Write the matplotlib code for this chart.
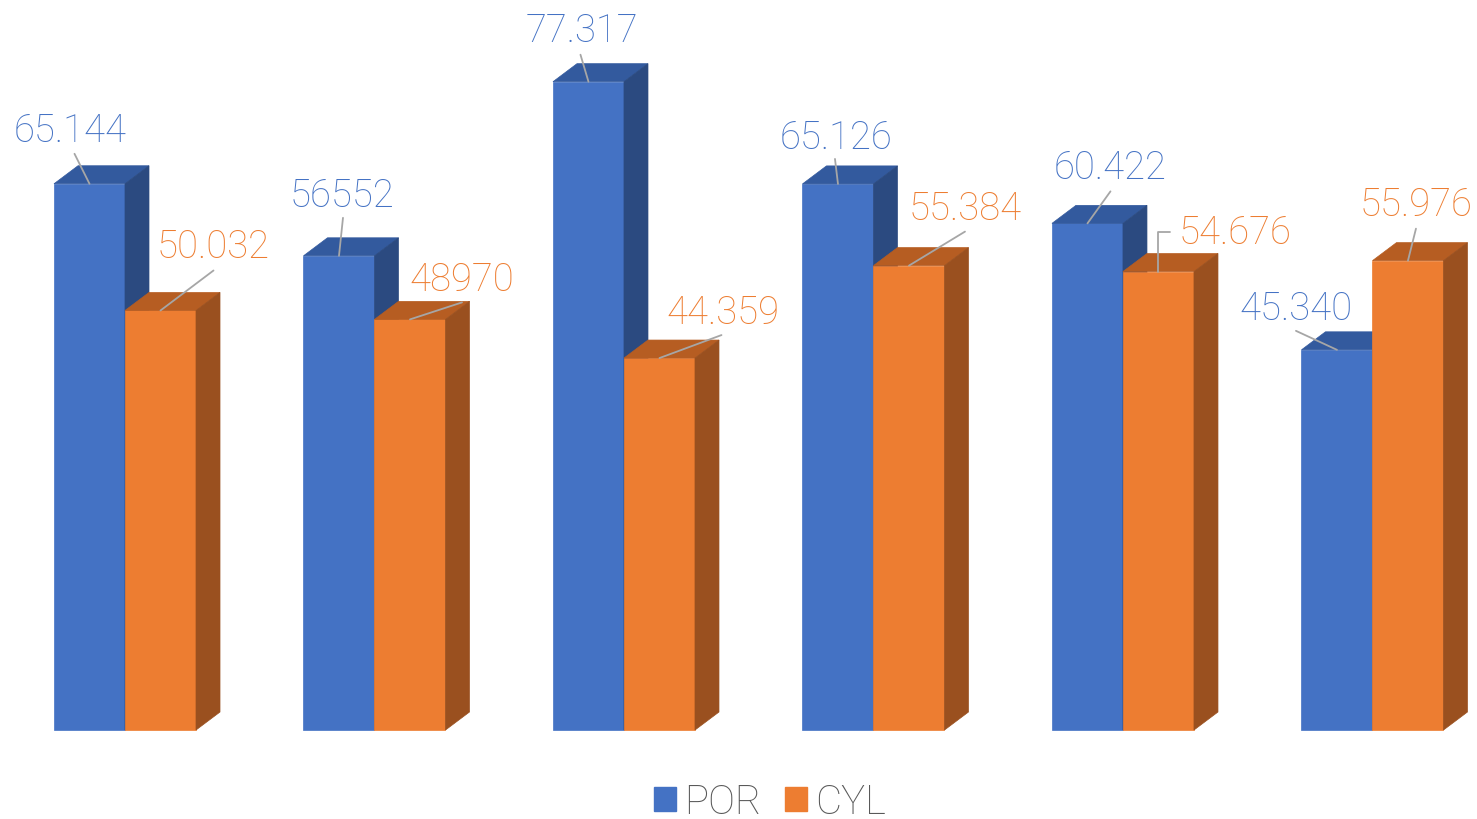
import numpy as np
import matplotlib
matplotlib.use("Agg")
import matplotlib.pyplot as plt
from matplotlib.patches import Polygon, Patch

plt.rcParams['font.family'] = ['Roboto', 'DejaVu Sans']

# data
groups = np.arange(6)
por_vals = [65.144, 56.552, 77.317, 65.126, 60.422, 45.340]
cyl_vals = [50.032, 48.970, 44.359, 55.384, 54.676, 55.976]
por_labels = ["65.144", "56552", "77.317", "65.126", "60.422", "45.340"]
cyl_labels = ["50.032", "48970", "44.359", "55.384", "54.676", "55.976"]

# (line end dx, dy, text dx, dy) in pixels relative to top of front face
por_off = [(-15, 30, -19, 54), (4, 38, 3, 61), (-8, 27, -7, 51),
           (-3, 25, -2, 47), (23, 32, 23, 56), (-41, 19, -41, 42)]
cyl_off = [(53, 40, 53, 64), (52, 17, 52, 40), (62, 23, 63, 46),
           (56, 34, 56, 57), (12, 40, 77, 39), (8, 32, 8, 56)]

blue = ("#4472C4", "#335A9E", "#2B4A80")
orange = ("#ED7D31", "#B65D22", "#9A501F")

w = 0.2846   # bar width
dx = 0.0962  # depth in x
dy = 2.15    # depth in y

fig = plt.figure(figsize=(14.77, 8.2), dpi=100)
ax = fig.add_axes([0, 0, 1, 1])
ax.set_xlim(-0.501, 5.419)
ax.set_ylim(-10.61, 87.18)
ax.axis('off')


def draw_series(xs, vals, cols, z):
    ax.bar(xs, vals, w, align='edge', color=cols[0], zorder=z,
           edgecolor=cols[0], linewidth=0.5)
    for x0, v in zip(xs, vals):
        x1 = x0 + w
        top = Polygon([(x0, v), (x0 + dx, v + dy), (x1 + dx, v + dy), (x1, v)],
                      closed=True, facecolor=cols[1], edgecolor=cols[1],
                      linewidth=0.5, zorder=z)
        side = Polygon([(x1, 0), (x1, v), (x1 + dx, v + dy), (x1 + dx, dy)],
                       closed=True, facecolor=cols[2], edgecolor=cols[2],
                       linewidth=0.5, zorder=z)
        ax.add_patch(top)
        ax.add_patch(side)


def draw_labels(xs, vals, labels, offs, color, elbow_idx=None):
    for i, (x0, v, lab, o) in enumerate(zip(xs, vals, labels, offs)):
        xa = x0 + w / 2
        conn = 'angle,angleA=0,angleB=90,rad=0' if i == elbow_idx else 'arc3'
        ax.annotate('', xy=(xa, v), xytext=(o[0], o[1]),
                    textcoords='offset pixels',
                    arrowprops=dict(arrowstyle='-', color='#A6A6A6', lw=1.3,
                                    shrinkA=0, shrinkB=0, connectionstyle=conn),
                    zorder=10)
        ax.annotate(lab, xy=(xa, v), xytext=(o[2], o[3]),
                    textcoords='offset pixels', ha='center', va='center',
                    fontsize=27.5, color=color, fontweight='light', zorder=10)


draw_series(groups - w, por_vals, blue, 2)
draw_series(groups, cyl_vals, orange, 3)
draw_labels(groups - w, por_vals, por_labels, por_off, "#4472C4")
draw_labels(groups, cyl_vals, cyl_labels, cyl_off, "#ED7D31", elbow_idx=4)

handles = [Patch(color=blue[0], label='POR'), Patch(color=orange[0], label='CYL')]
fig.legend(handles=handles, loc='center', bbox_to_anchor=(770 / 1477, 1 - 803 / 820),
           ncol=2, frameon=False, handlelength=0.55, handleheight=0.55,
           handletextpad=0.2, columnspacing=0.6, labelcolor='#595959',
           borderpad=0.1, prop={'weight': 'light', 'size': 29})

fig.savefig("out.png", dpi=100)
